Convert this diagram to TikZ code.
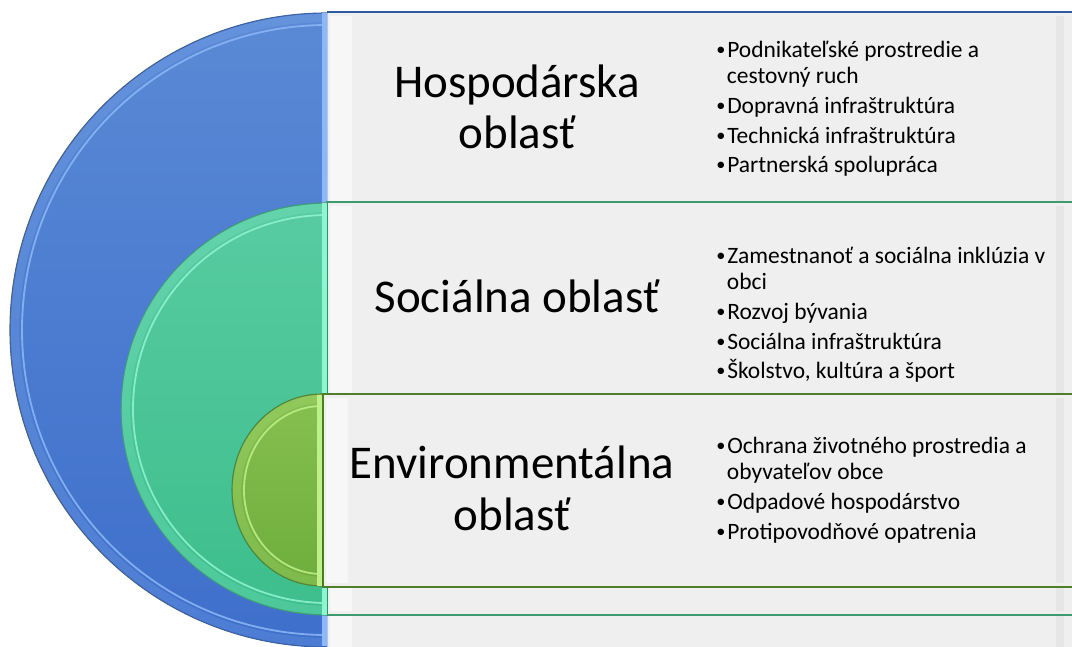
\documentclass[tikz,border=0pt]{standalone}
\usepackage{fontspec}
\setmainfont{Carlito}

\definecolor{boxgray}{HTML}{EFEFEF}
\definecolor{blueT}{HTML}{5A89D5}
\definecolor{blueB}{HTML}{3E6FCB}
\definecolor{blueEdge}{HTML}{3A62AA}
\definecolor{blueHL}{HTML}{8DB7F5}
\definecolor{blueLine}{HTML}{2F5A9E}
\definecolor{greenT}{HTML}{58CBA2}
\definecolor{greenB}{HTML}{3DBE8C}
\definecolor{greenEdge}{HTML}{3E9C78}
\definecolor{greenHL}{HTML}{90F3D3}
\definecolor{greenLine}{HTML}{3D9A6C}
\definecolor{limeT}{HTML}{86C050}
\definecolor{limeB}{HTML}{6EAD3C}
\definecolor{limeEdge}{HTML}{5A8430}
\definecolor{limeHL}{HTML}{BEF08A}
\definecolor{limeLine}{HTML}{4F7D2A}

\newcommand{\bul}{\makebox[7.8pt][l]{\raisebox{0.9pt}{\fontsize{13}{13}\selectfont•}}}
\newcommand{\ind}{\hspace*{7.6pt}}

\begin{document}
\begin{tikzpicture}[x=0.025cm,y=-0.025cm,
  title/.style={font=\fontsize{33.4}{36}\selectfont,anchor=base,inner sep=0},
  item/.style={font=\fontsize{16.7}{20}\selectfont,anchor=base west,inner sep=0},
  litestrip/.style={fill=white,opacity=0.55},
  darkstrip/.style={fill=black!12,opacity=0.6}]
\useasboundingbox (0,0) rectangle (1072,646);

% blue level
\fill[boxgray] (327,12) rectangle (1085,660);
\fill[litestrip] (330,16) rectangle (352,656);
\fill[darkstrip] (1056,16) rectangle (1064,656);
\draw[blueLine,line width=1.1pt] (327,12) -- (1085,12);
\fill[top color=blueT,bottom color=blueB] (327,13) arc[start angle=-90,end angle=-270,radius=317] -- cycle;
\draw[blueHL,line width=6pt,opacity=0.2] (327,18) arc[start angle=-90,end angle=-270,radius=312];
\draw[blueHL,line width=1.3pt,opacity=0.85] (327,25) arc[start angle=-90,end angle=-270,radius=305];
\draw[blueEdge,line width=0.8pt] (327,13) arc[start angle=-90,end angle=-270,radius=317];
\fill[blueHL] (322,13) rectangle (327,646);

% green level
\fill[boxgray] (327,202) rectangle (1085,615);
\fill[litestrip] (330,206) rectangle (352,611);
\fill[darkstrip] (1056,206) rectangle (1064,611);
\draw[greenLine,line width=1.1pt] (327,202) rectangle (1085,615);
\fill[top color=greenT,bottom color=greenB] (327,203) arc[start angle=-90,end angle=-270,radius=206] -- cycle;
\draw[greenHL,line width=6pt,opacity=0.2] (327,208) arc[start angle=-90,end angle=-270,radius=201];
\draw[greenHL,line width=1.3pt,opacity=0.85] (327,215) arc[start angle=-90,end angle=-270,radius=194];
\draw[greenEdge,line width=0.8pt] (327,203) arc[start angle=-90,end angle=-270,radius=206];
\fill[greenHL] (322,203) rectangle (327,615);

% lime level
\fill[boxgray] (323,394) rectangle (1085,587);
\fill[litestrip] (326,398) rectangle (348,583);
\fill[darkstrip] (1056,398) rectangle (1064,583);
\draw[limeLine,line width=1.1pt] (323,394) rectangle (1085,587);
\fill[top color=limeT,bottom color=limeB] (322,394) arc[start angle=-90,end angle=-270,x radius=90,y radius=96] -- cycle;
\draw[limeHL,line width=6pt,opacity=0.2] (322,399) arc[start angle=-90,end angle=-270,x radius=85,y radius=91];
\draw[limeHL,line width=1.3pt,opacity=0.85] (322,406) arc[start angle=-90,end angle=-270,x radius=78,y radius=84];
\draw[limeEdge,line width=0.8pt] (322,394) arc[start angle=-90,end angle=-270,x radius=90,y radius=96];
\fill[limeHL] (317,395) rectangle (322,586);

% titles
\node[title] (hosp1) at (517,97) {Hospodárska};
\node[title] (hosp2) at (517,148) {oblasť};
\node[title] (soc) at (517,312) {Sociálna oblasť};
\node[title] (env1) at (512,478) {Environmentálna};
\node[title] (env2) at (512,530) {oblasť};

% bullet lists
\foreach \y/\t [count=\i] in {57/{\bul Podnikateľské prostredie a},
    83/{\ind cestovný ruch},
    113/{\bul Dopravná infraštruktúra},
    143/{\bul Technická infraštruktúra},
    172/{\bul Partnerská spolupráca}}
  \node[item] (hi\i) at (716,\y) {\t};
\foreach \y/\t [count=\i] in {263/{\bul Zamestnanoť a sociálna inklúzia v},
    289/{\ind obci},
    319/{\bul Rozvoj bývania},
    349/{\bul Sociálna infraštruktúra},
    378/{\bul Školstvo, kultúra a šport}}
  \node[item] (si\i) at (716,\y) {\t};
\foreach \y/\t [count=\i] in {453/{\bul Ochrana životného prostredia a},
    479/{\ind obyvateľov obce},
    509/{\bul Odpadové hospodárstvo},
    539/{\bul Protipovodňové opatrenia}}
  \node[item] (ei\i) at (716,\y) {\t};
\end{tikzpicture}
\end{document}
